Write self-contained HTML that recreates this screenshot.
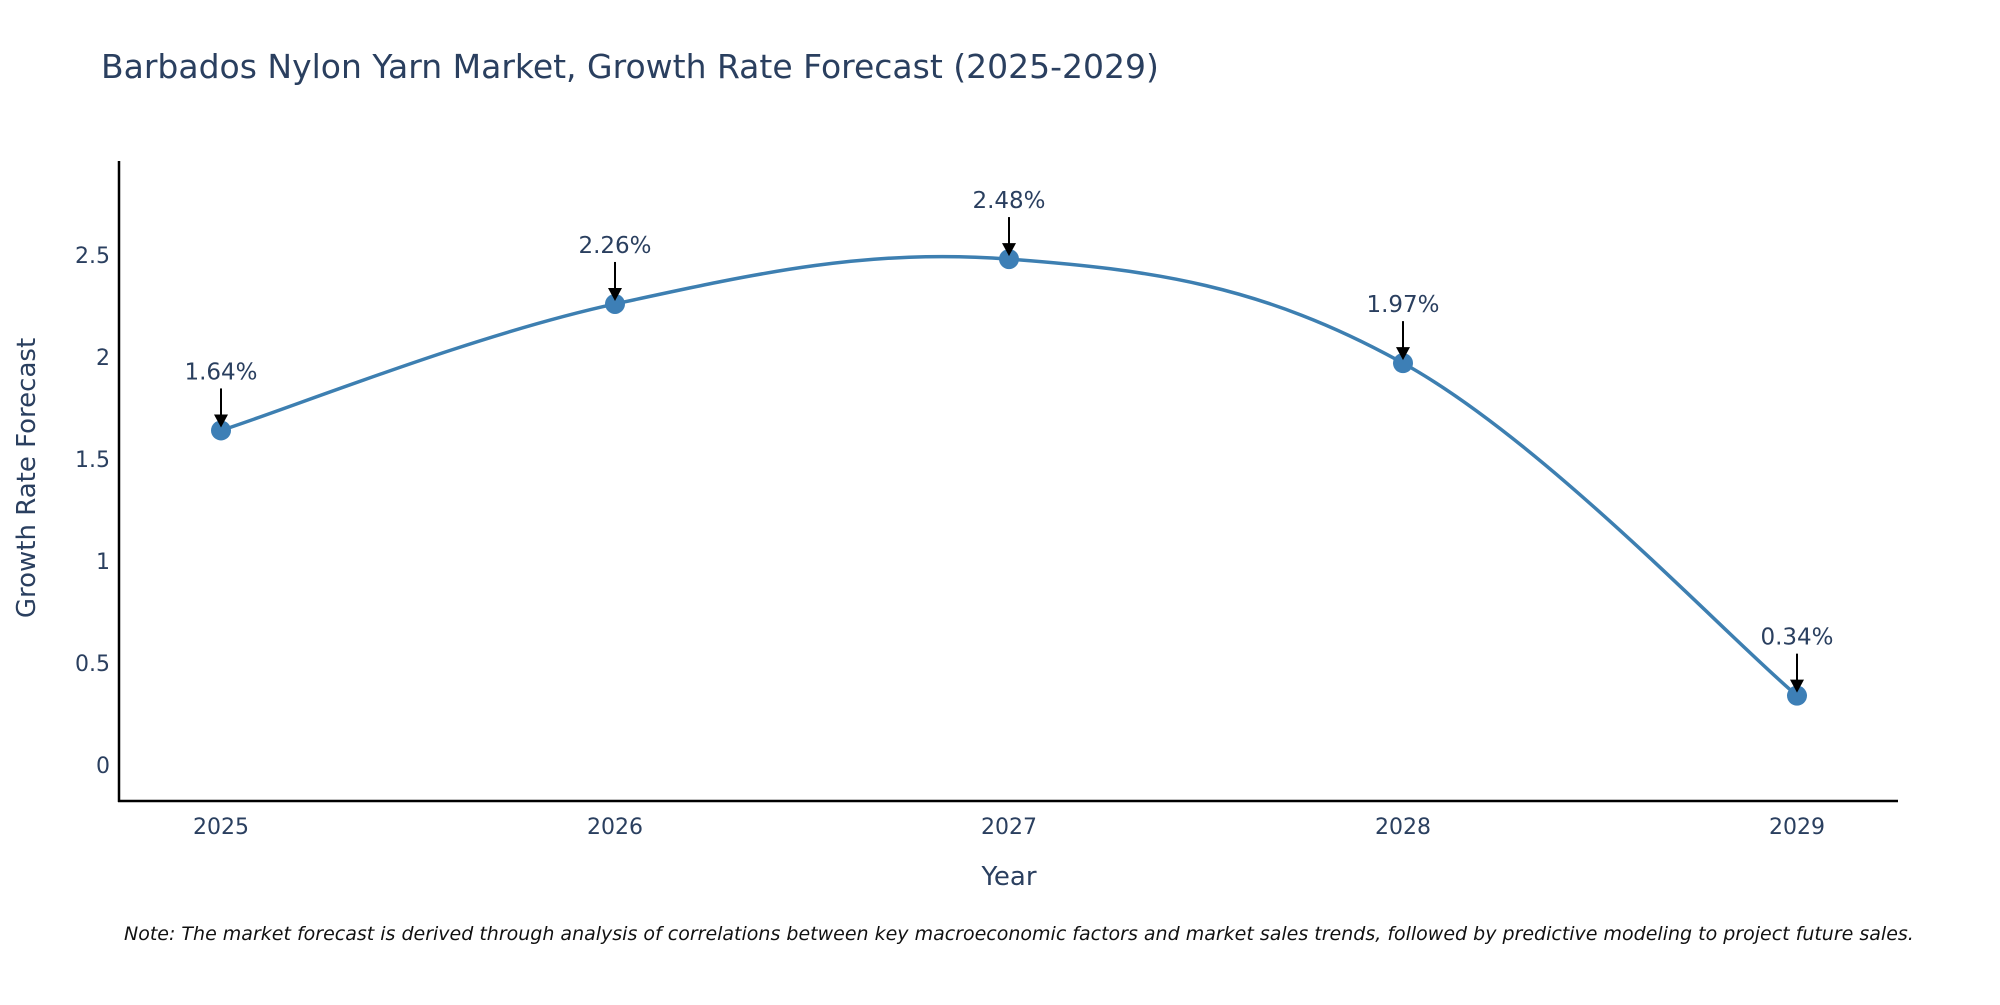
<!DOCTYPE html>
<html><head><meta charset="utf-8"><style>
body{margin:0;background:#fff;}
svg text{font-family:"DejaVu Sans","Liberation Sans",sans-serif;fill:#2a3f5f;}
</style></head><body>
<svg id="chart" width="2000" height="1000" xmlns="http://www.w3.org/2000/svg">
<text x="101" y="78" font-size="33">Barbados Nylon Yarn Market, Growth Rate Forecast (2025-2029)</text>
<g id="yticks"></g><g id="xticks"></g>
<line x1="119" y1="161" x2="119" y2="802" stroke="#000" stroke-width="2.5"/>
<line x1="118" y1="801" x2="1898" y2="801" stroke="#000" stroke-width="2.5"/>
<path id="line" fill="none" stroke="#3d7fb1" stroke-width="3.5"/>
<g id="points"></g><g id="annots"></g>
<text x="1009" y="885" font-size="26" text-anchor="middle">Year</text>
<text x="0" y="0" font-size="26" text-anchor="middle" transform="translate(35,478) rotate(-90)">Growth Rate Forecast</text>
<text x="124" y="940" font-size="19" font-style="italic" style="fill:#111">Note: The market forecast is derived through analysis of correlations between key macroeconomic factors and market sales trends, followed by predictive modeling to project future sales.</text>
</svg>
<script>
const years=["2025","2026","2027","2028","2029"];
const values=[1.64,2.26,2.48,1.97,0.34];
const yTicks=[0,0.5,1,1.5,2,2.5];
const yTickLabels=["0","0.5","1","1.5","2","2.5"];
const NS="http://www.w3.org/2000/svg";
const xS=i=>221+i*394;
const yS=v=>765-v*204;
function mk(t,a,p){const e=document.createElementNS(NS,t);for(const k in a)e.setAttribute(k,a[k]);p.appendChild(e);return e;}
const yt=document.getElementById('yticks');
yTicks.forEach((v,i)=>{const t=mk('text',{x:110,y:yS(v)+8,'font-size':22,'text-anchor':'end'},yt);t.textContent=yTickLabels[i];

});
const xt=document.getElementById('xticks');
years.forEach((y,i)=>{const t=mk('text',{x:xS(i),y:834,'font-size':22,'text-anchor':'middle'},xt);t.textContent=y;

});
const P=values.map((v,i)=>[xS(i),yS(v)]);
let d='M'+P[0][0]+','+P[0][1];const k=0.18;
for(let i=0;i<P.length-1;i++){const p0=P[Math.max(0,i-1)],p1=P[i],p2=P[i+1],p3=P[Math.min(P.length-1,i+2)];
d+=' C'+(p1[0]+(p2[0]-p0[0])*k)+','+(p1[1]+(p2[1]-p0[1])*k)+' '+(p2[0]-(p3[0]-p1[0])*k)+','+(p2[1]-(p3[1]-p1[1])*k)+' '+p2[0]+','+p2[1];}
document.getElementById('line').setAttribute('d',d);
const pts=document.getElementById('points'),an=document.getElementById('annots');
values.forEach((v,i)=>{const x=xS(i),y=yS(v);
const c=mk('circle',{cx:x,cy:y,r:10,fill:'#3d7fb6'},pts);


const l=mk('line',{x1:x,y1:y-42,x2:x,y2:y-14,stroke:'#000','stroke-width':2},an);


const h=mk('path',{d:`M${x-7},${y-16} L${x+7},${y-16} L${x},${y-3} Z`,fill:'#000'},an);


const t=mk('text',{x:x,y:y-51,'font-size':23,'text-anchor':'middle'},an);t.textContent=v.toFixed(2)+'%';

});
</script>
</body></html>
